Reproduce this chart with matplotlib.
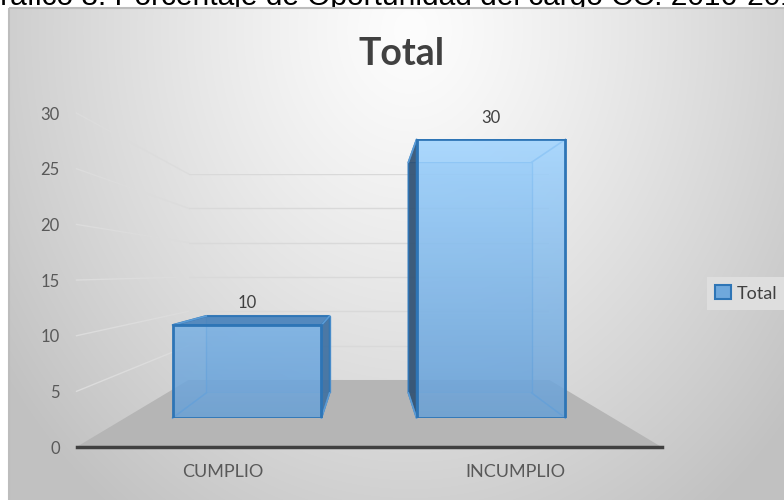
import numpy as np
import matplotlib.pyplot as plt
from matplotlib.patches import Polygon, Rectangle, Patch

categories = ['CUMPLIO', 'INCUMPLIO']
values = [10, 30]
yticks = [0, 5, 10, 15, 20, 25, 30]
series_name = 'Total'
title = 'Total'
caption = 'Gráfico 8. Porcentaje de Oportunidad del cargo CC. 2016-2018'

W, H = 784, 500
fig = plt.figure(figsize=(W / 100, H / 100), dpi=100)
fig.patch.set_facecolor('white')

# simple perspective: every depth plane is an axes scaled about the vanishing point
VPX, VPY = 369, 272      # vanishing point (px from top-left)
UX = 292.5               # px per category at the front of the floor
FLOOR_Y = 447            # floor front edge (px)
YMAX = 30
UY = 11.13               # px per unit at the front of the floor
S_FRONT, S_BAR_FRONT, S_BAR_BACK, S_BACK = 1.0, 0.834, 0.691, 0.617
XLIM = (-0.5, 1.5)
HALF = 0.305
xpos = np.arange(len(categories))

FONT = ['Lato', 'DejaVu Sans']


def plane(s, z):
    x0 = VPX + s * (XLIM[0] - 0.5) * UX
    x1 = VPX + s * (XLIM[1] - 0.5) * UX
    ybot = VPY + s * (FLOOR_Y - VPY)
    ytop = VPY + s * (FLOOR_Y - YMAX * UY - VPY)
    ax = fig.add_axes([x0 / W, 1 - ybot / H, (x1 - x0) / W, (ybot - ytop) / H], zorder=z)
    ax.set_xlim(XLIM)
    ax.set_ylim(0, YMAX)
    ax.patch.set_visible(False)
    return ax


def P(ax, x, v):
    return fig.transFigure.inverted().transform(ax.transData.transform((x, v)))


# background with radial gradient
bg = fig.add_axes([0, 0, 1, 1], zorder=0)
bg.axis('off')
yy, xx = np.mgrid[8:H, 9:W]
t = np.sqrt(((xx - 410) / 430.0) ** 2 + ((yy - 30) / 520.0) ** 2)
shade = (253 - 50 * np.clip(t, 0, 1.15) ** 1.2) / 255.0
bg.imshow(np.dstack([shade] * 3), extent=(9, W, H, 8), aspect='auto', interpolation='bilinear')
bg.add_patch(Rectangle((9, 8), W, H, fill=False, edgecolor='#bdbdbd', lw=1.5))
bg.set_xlim(0, W)
bg.set_ylim(H, 0)

# caption of the document, cut by the top of the image
tmp = fig.text(0, 0, 'G', fontsize=21.5, family='Liberation Sans')
wG = tmp.get_window_extent(fig.canvas.get_renderer()).width
tmp.remove()
fig.text(-wG / W, 1 - 5 / H, caption, fontsize=21.5, family='Liberation Sans',
         color='black', va='baseline', zorder=-1)

fig.text(402 / W, 1 - 65 / H, title, fontsize=27, fontweight='bold', family=FONT,
         color='#404040', ha='center', va='baseline')

# back wall + floor + left wall
back = plane(S_BACK, 1)
back.axis('off')
for v in yticks[1:]:
    back.axhline(v, color='#d9d9d9', lw=1)

front = plane(S_FRONT, 4)
floor = [P(front, XLIM[0], 0), P(front, XLIM[1], 0), P(back, XLIM[1], 0), P(back, XLIM[0], 0)]
back.add_patch(Polygon(floor, closed=True, facecolor='#b5b5b5', edgecolor='none',
                       transform=fig.transFigure, clip_on=False))
for v in yticks[1:]:
    a, b = P(front, XLIM[0], v), P(back, XLIM[0], v)
    back.plot([a[0], b[0]], [a[1], b[1]], color='#dcdcdc', lw=1,
              transform=fig.transFigure, clip_on=False)

# back faces of the bars
bb = plane(S_BAR_BACK, 1.5)
bb.axis('off')
bb.bar(xpos, values, width=2 * HALF, facecolor=(0.42, 0.65, 0.87, 0.35),
       edgecolor='#5b9bd5', linewidth=1)

bf = plane(S_BAR_FRONT, 3)
bf.axis('off')

# side / top faces and depth edges
scene = fig.add_axes([0, 0, 1, 1], zorder=2)
scene.axis('off')
scene.set_xlim(0, 1)
scene.set_ylim(0, 1)
for xi, v in zip(xpos, values):
    l, r = xi - HALF, xi + HALF
    if P(bf, r, 0)[0] * W < VPX:
        side = [P(bf, r, 0), P(bf, r, v), P(bb, r, v), P(bb, r, 0)]
        scene.add_patch(Polygon(side, closed=True, facecolor='#3f6f9f', alpha=0.9,
                                edgecolor='#2e75b6', lw=1.2))
    elif P(bf, l, 0)[0] * W > VPX:
        side = [P(bf, l, 0), P(bf, l, v), P(bb, l, v), P(bb, l, 0)]
        scene.add_patch(Polygon(side, closed=True, facecolor='#2f4f70', alpha=0.9,
                                edgecolor='#2e75b6', lw=1.2))
    if (1 - P(bf, xi, v)[1]) * H > VPY:
        top = [P(bf, l, v), P(bf, r, v), P(bb, r, v), P(bb, l, v)]
        scene.add_patch(Polygon(top, closed=True, facecolor='#4f86bd', alpha=0.95,
                                edgecolor='#2e75b6', lw=1.5))
    for cx in (l, r):
        for cy in (0, v):
            a, b = P(bf, cx, cy), P(bb, cx, cy)
            scene.plot([a[0], b[0]], [a[1], b[1]], color='#5b9bd5', lw=1.2)

# front faces
bars = bf.bar(xpos, values, width=2 * HALF, facecolor='none', edgecolor='#2e75b6',
              linewidth=2, zorder=3)
low = np.array([104, 160, 214]) / 255.0
high = np.array([158, 211, 255]) / 255.0
for bar, xi, v in zip(bars, xpos, values):
    frac = np.linspace(0, v / YMAX, 100)[:, None, None]
    rgb = low * (1 - frac) + high * frac
    im = bf.imshow(rgb[::-1], extent=(xi - HALF, xi + HALF, 0, v), aspect='auto',
                   alpha=0.85, zorder=2, interpolation='bilinear')
    im.set_clip_path(bar)
bf.set_xlim(XLIM)
bf.set_ylim(0, YMAX)
bf.bar_label(bars, padding=10, fontsize=12, color='#404040', family=FONT)

# axis labels on the front plane
for s in ['top', 'right', 'left']:
    front.spines[s].set_visible(False)
front.spines['bottom'].set_color('#404040')
front.spines['bottom'].set_linewidth(2.5)
front.set_yticks(yticks)
front.set_yticklabels([str(v) for v in yticks])
front.set_xticks(xpos)
front.set_xticklabels(categories)
front.tick_params(axis='y', length=0, pad=12, labelsize=12, labelcolor='#595959')
front.tick_params(axis='x', length=0, pad=12, labelsize=13, labelcolor='#595959')
for lab in front.get_xticklabels() + front.get_yticklabels():
    lab.set_family(FONT)

leg = fig.legend(handles=[Patch(facecolor='#6fa8dc', edgecolor='#2e75b6', lw=1.5, label=series_name)],
                 loc='center left', bbox_to_anchor=(698 / W, 1 - 293.5 / H),
                 frameon=True, fancybox=False, facecolor='#dedede', edgecolor='none',
                 framealpha=1, handlelength=0.9, handleheight=0.8, handletextpad=0.3,
                 borderpad=0.45, prop={'family': FONT, 'size': 13})
for txt in leg.get_texts():
    txt.set_color('#404040')

fig.savefig('out.png', dpi=100)
